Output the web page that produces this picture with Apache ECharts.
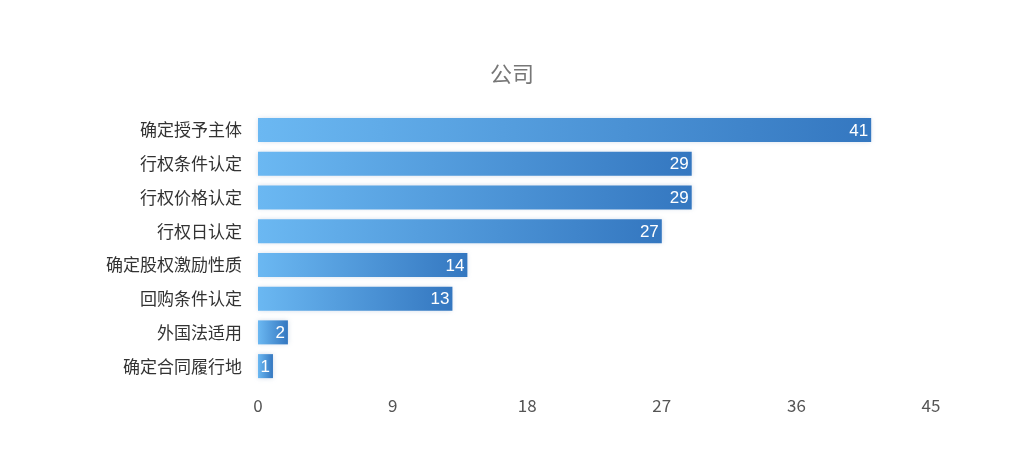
<!DOCTYPE html>
<html><head><meta charset="utf-8">
<script src="https://cdn.jsdelivr.net/npm/echarts@6/dist/echarts.min.js"></script>
<style>html,body{margin:0;padding:0;background:#fff}#c{width:1024px;height:468px}</style>
</head><body><div id="c"></div>
<script>
const titleText = '公司';
const categories = ['确定授予主体','行权条件认定','行权价格认定','行权日认定','确定股权激励性质','回购条件认定','外国法适用','确定合同履行地'];
const values = [41,29,29,27,14,13,2,1];
const xTicks = {min:0,max:45,interval:9};
const chart = echarts.init(document.getElementById('c'));
chart.setOption({
  animation:false,
  title:{text:titleText,left:'center',top:58,textStyle:{color:'#777',fontSize:22,fontWeight:'normal',fontFamily:'Noto Sans CJK SC'}},
  grid:{left:258,right:93,top:113,bottom:85,containLabel:false},
  xAxis:{type:'value',min:xTicks.min,max:xTicks.max,interval:xTicks.interval,
    axisLine:{show:false},axisTick:{show:false},splitLine:{show:false},
    axisLabel:{color:'#555',fontSize:17,margin:14,fontFamily:'Noto Sans CJK SC'}},
  yAxis:{type:'category',data:categories,inverse:true,
    axisLine:{show:false},axisTick:{show:false},
    axisLabel:{color:'#333',fontSize:17,margin:16,fontFamily:'Noto Sans CJK SC'}},
  series:[{type:'bar',data:values,barWidth:24,
    itemStyle:{color:new echarts.graphic.LinearGradient(0,0,1,0,[{offset:0,color:'#6bb8f2'},{offset:1,color:'#3477c0'}]),
      shadowColor:'rgba(120,150,190,0.35)',shadowBlur:5},
    label:{show:true,position:'insideRight',offset:[2,1],color:'#fff',fontSize:17,fontFamily:'Liberation Sans'}}]
});
</script></body></html>
